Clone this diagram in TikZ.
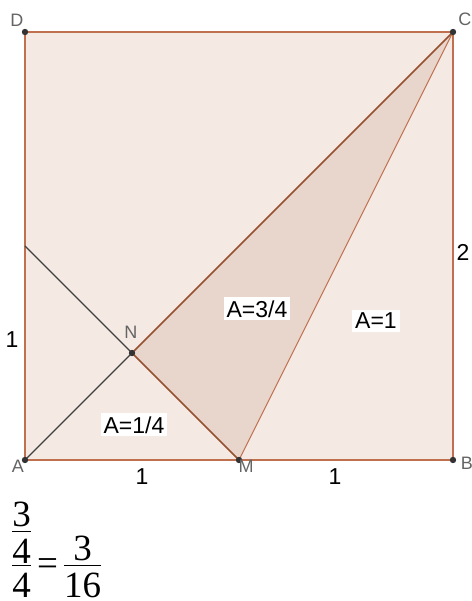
\documentclass[tikz,border=0pt]{standalone}
\usepackage{fix-cm}
\usepackage{amsmath}
\usepackage{fontspec}
\setmainfont{Liberation Serif}
\setsansfont{Liberation Sans}
\usepackage{tikz}
\usetikzlibrary{calc, positioning}

\definecolor{edgebrown}{RGB}{192,112,78}
\definecolor{linebrown}{RGB}{150,80,45}
\definecolor{fillpink}{RGB}{245,233,228}
\definecolor{fillrose}{RGB}{232,213,203}
\definecolor{labelgray}{RGB}{100,100,100}

\newcommand{\flatfrac}[2]{\genfrac{}{}{}{1}{\displaystyle #1}{\displaystyle\rule{0pt}{15pt}#2}}
\newcommand{\dg}[1]{\textnormal{#1}}

\tikzset{
  pt/.style={circle, fill=black!80, inner sep=0pt, minimum size=3.2pt},
  ptlabel/.style={font=\sffamily\fontsize{9}{10}\selectfont, text=labelgray, inner sep=0pt},
  len/.style={font=\sffamily\fontsize{11.5}{12}\selectfont, inner sep=0pt},
  area/.style={font=\sffamily\fontsize{11.5}{12}\selectfont, fill=white, inner sep=1.5pt},
}

\begin{document}
\begin{tikzpicture}[x=107pt, y=107pt]
\useasboundingbox (-0.1168,-0.6589) rectangle (2.0888,2.1495);

% Points
\coordinate (A) at (0,0);
\coordinate (B) at (2,0);
\coordinate (C) at (2,2);
\coordinate (D) at (0,2);
\coordinate (M) at (1,0);
\coordinate (N) at (0.5,0.5);
\coordinate (E) at (0,1);

% Square and triangle
\fill[fillpink] (A) rectangle (C);
\fill[fillrose] (N) -- (M) -- (C) -- cycle;
\draw[edgebrown, line width=1pt] (A) -- (B) -- (C) -- (D) -- cycle;

% Segments
\draw[black!75, line width=0.7pt] (A) -- (N);
\draw[black!75, line width=0.7pt] (E) -- (N);
\draw[linebrown, line width=0.8pt] (N) -- (M);
\draw[linebrown, line width=0.8pt] (N) -- (C);
\draw[edgebrown, line width=0.55pt] (C) -- (M);

% Dots
\foreach \p in {A,B,C,D,M,N}
  \node[pt] (dot\p) at (\p) {};

% Point labels
\node[ptlabel] (labA) at ($(A)+(-3.5pt,-3pt)$) {A};
\node[ptlabel] (labB) at ($(B)+(7pt,-1.5pt)$) {B};
\node[ptlabel] (labC) at ($(C)+(6pt,6.5pt)$) {C};
\node[ptlabel] (labD) at ($(D)+(-4pt,6pt)$) {D};
\node[ptlabel] (labM) at ($(M)+(3.5pt,-3pt)$) {M};
\node[ptlabel] (labN) at ($(N)+(-0.5pt,10.5pt)$) {N};

% Lengths
\node[len] (lenAD) at (-0.061,0.561) {1};
\node[len] (lenAM) at (0.547,-0.079) {1};
\node[len] (lenMB) at (1.449,-0.079) {1};
\node[len] (lenBC) at (2.047,0.972) {2};

% Areas
\node[area] (areaANM) at (0.509,0.164) {A=1/4};
\node[area] (areaNMC) at (1.084,0.706) {A=3/4};
\node[area] (areaMBC) at (1.640,0.650) {A=1};

% Result
\node[inner sep=0pt, anchor=base west, font=\fontsize{18.5}{22}\selectfont] (result) at (-0.0607,-0.5374)
  {$\nulldelimiterspace=0pt \thickmuskip=3mu
    \flatfrac{\flatfrac{\dg{3}}{\dg{4}}}{\dg{4}}\mathrel{\dg{=}}\flatfrac{\dg{3}}{\dg{16}}$};
\end{tikzpicture}
\end{document}
